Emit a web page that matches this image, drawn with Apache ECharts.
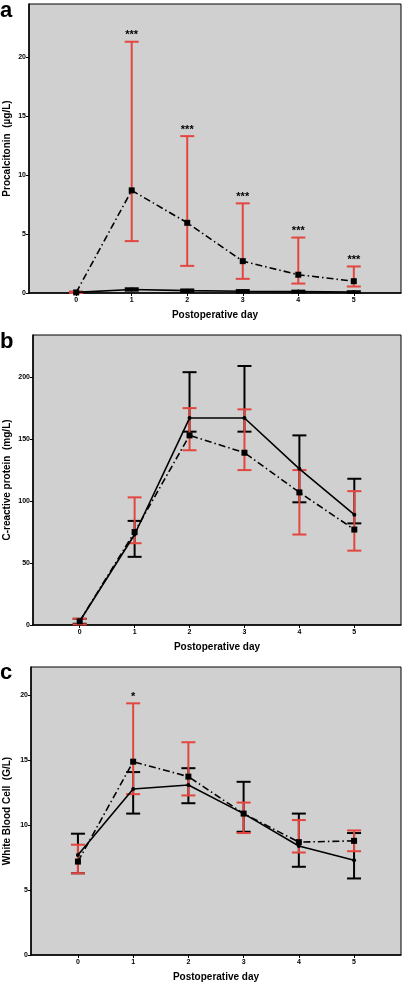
<!DOCTYPE html>
<html><head><meta charset="utf-8">
<script src="https://cdn.jsdelivr.net/npm/echarts@6/dist/echarts.min.js"></script>
<style>html,body{margin:0;padding:0;background:#fff}#c{width:402px;height:986px}</style>
</head><body><div id="c"></div>
<script>
const days = [0, 1, 2, 3, 4, 5];
const dayTicks = [0, 1, 2, 3, 4, 5];

// Panel a: Procalcitonin
const pctSolid = [0.05, 0.3, 0.2, 0.15, 0.12, 0.08];
const pctSolidLow = [0.0, 0.2, 0.1, 0.05, 0.05, 0.02];
const pctSolidHigh = [0.1, 0.4, 0.3, 0.25, 0.2, 0.15];
const pctDash = [0.05, 8.7, 5.95, 2.7, 1.55, 1.0];
const pctDashLow = [0.0, 4.4, 2.3, 1.2, 0.8, 0.55];
const pctDashHigh = [0.1, 21.3, 13.3, 7.6, 4.7, 2.25];
const pctSig = ['', '***', '***', '***', '***', '***'];
const pctTicks = [0, 5, 10, 15, 20];

// Panel b: C-reactive protein
const crpSolid = [3, 73, 167, 167, 126, 89];
const crpSolidLow = [1, 55, 156, 156, 99, 82];
const crpSolidHigh = [5, 84, 204, 209, 153, 118];
const crpDash = [3, 75, 153, 139, 107, 77];
const crpDashLow = [0.5, 66, 141, 125, 73, 60];
const crpDashHigh = [5, 103, 175, 174, 125, 108];
const crpSig = ['', '', '', '', '', ''];
const crpTicks = [0, 50, 100, 150, 200];

// Panel c: White Blood Cell
const wbcSolid = [7.7, 12.8, 13.1, 10.9, 8.4, 7.3];
const wbcSolidLow = [6.3, 10.9, 11.7, 9.5, 6.8, 5.9];
const wbcSolidHigh = [9.35, 14.1, 14.4, 13.35, 10.9, 9.4];
const wbcDash = [7.2, 14.9, 13.75, 10.9, 8.7, 8.8];
const wbcDashLow = [6.3, 12.4, 12.3, 9.4, 7.9, 8.0];
const wbcDashHigh = [8.5, 19.4, 16.4, 11.75, 10.4, 9.6];
const wbcSig = ['', '*', '', '', '', ''];
const wbcTicks = [0, 5, 10, 15, 20];

const RED = '#e2463f';
const FONT = 'Liberation Sans';

const panels = [
  {letter: 'a', name: 'Procalcitonin  (\u00b5g/L)', grid: {left: 29, top: 4, width: 372, height: 289}, ymax: 24.5, ticks: pctTicks,
   solid: pctSolid, sL: pctSolidLow, sH: pctSolidHigh, dash: pctDash, dL: pctDashLow, dH: pctDashHigh, sig: pctSig, letterY: 0, gap: 17},
  {letter: 'b', name: 'C-reactive protein  (mg/L)', grid: {left: 33, top: 335, width: 368, height: 290}, ymax: 234, ticks: crpTicks,
   solid: crpSolid, sL: crpSolidLow, sH: crpSolidHigh, dash: crpDash, dL: crpDashLow, dH: crpDashHigh, sig: crpSig, letterY: 331, gap: 21},
  {letter: 'c', name: 'White Blood Cell  (G/L)', grid: {left: 31, top: 667, width: 370, height: 288}, ymax: 22.2, ticks: wbcTicks,
   solid: wbcSolid, sL: wbcSolidLow, sH: wbcSolidHigh, dash: wbcDash, dL: wbcDashLow, dH: wbcDashHigh, sig: wbcSig, letterY: 662, gap: 19}
];

function errSeries(i, low, high, color, sig) {
  return {
    type: 'custom', xAxisIndex: i, yAxisIndex: i, z: 3,
    data: days.map((d, k) => [d, low[k], high[k], sig ? sig[k] : '']),
    renderItem: function (params, api) {
      const x = api.value(0);
      const lo = api.coord([x, api.value(1)]);
      const hi = api.coord([x, api.value(2)]);
      const w = 7;
      const st = {stroke: color, lineWidth: 2};
      const children = [
        {type: 'line', shape: {x1: lo[0], y1: lo[1], x2: hi[0], y2: hi[1]}, style: st},
        {type: 'line', shape: {x1: lo[0] - w, y1: lo[1], x2: lo[0] + w, y2: lo[1]}, style: st},
        {type: 'line', shape: {x1: hi[0] - w, y1: hi[1], x2: hi[0] + w, y2: hi[1]}, style: st}
      ];
      const s = api.value(3);
      if (s) {
        children.push({type: 'text', style: {text: s, x: hi[0], y: hi[1] - 1, align: 'center', verticalAlign: 'bottom',
          fill: '#000', font: 'bold 11px ' + FONT}});
      }
      return {type: 'group', children: children};
    }
  };
}

const grids = [], xAxes = [], yAxes = [], series = [], graphics = [];
panels.forEach((p, i) => {
  grids.push(Object.assign({show: true, backgroundColor: '#d0d0d0', borderColor: '#000', borderWidth: 1,
    containLabel: false, outerBoundsMode: 'none'}, p.grid));
  xAxes.push({
    type: 'value', gridIndex: i, min: -0.85, max: 5.85,
    name: 'Postoperative day', nameLocation: 'middle', nameGap: 17, nameMoveOverlap: false,
    nameTextStyle: {fontFamily: FONT, fontWeight: 'bold', fontSize: 10, color: '#000'},
    axisLine: {onZero: false, lineStyle: {color: '#000', width: 1.5}},
    axisTick: {show: true, length: 3, customValues: dayTicks, lineStyle: {color: '#000'}},
    axisLabel: {customValues: dayTicks, fontFamily: FONT, fontWeight: 'bold', fontSize: 7, color: '#000', margin: 4},
    splitLine: {show: false}
  });
  yAxes.push({
    type: 'value', gridIndex: i, min: 0, max: p.ymax,
    name: p.name, nameLocation: 'middle', nameGap: p.gap, nameMoveOverlap: false,
    nameTextStyle: {fontFamily: FONT, fontWeight: 'bold', fontSize: 10, color: '#000'},
    axisLine: {show: true, onZero: false, lineStyle: {color: '#000', width: 1.5}},
    axisTick: {show: true, length: 3, customValues: p.ticks, lineStyle: {color: '#000'}},
    axisLabel: {customValues: p.ticks, fontFamily: FONT, fontWeight: 'bold', fontSize: 7, color: '#000', margin: 3},
    splitLine: {show: false}
  });
  series.push(errSeries(i, p.sL, p.sH, '#000', null));
  series.push(errSeries(i, p.dL, p.dH, RED, p.sig));
  series.push({
    type: 'line', xAxisIndex: i, yAxisIndex: i, z: 4,
    data: days.map((d, k) => [d, p.solid[k]]),
    symbol: 'circle', symbolSize: 4, itemStyle: {color: '#000'},
    lineStyle: {color: '#000', width: 1.6}
  });
  series.push({
    type: 'line', xAxisIndex: i, yAxisIndex: i, z: 5,
    data: days.map((d, k) => [d, p.dash[k]]),
    symbol: 'rect', symbolSize: 6, itemStyle: {color: '#000'},
    lineStyle: {color: '#000', width: 1.6, type: [7, 3, 1.5, 3]}
  });
  graphics.push({type: 'text', left: 0, top: p.letterY, style: {text: p.letter, font: 'bold 22px ' + FONT, fill: '#000'}});
});

const chart = echarts.init(document.getElementById('c'), null, {renderer: 'canvas'});
chart.setOption({
  animation: false,
  grid: grids, xAxis: xAxes, yAxis: yAxes, series: series, graphic: graphics
});
</script></body></html>
